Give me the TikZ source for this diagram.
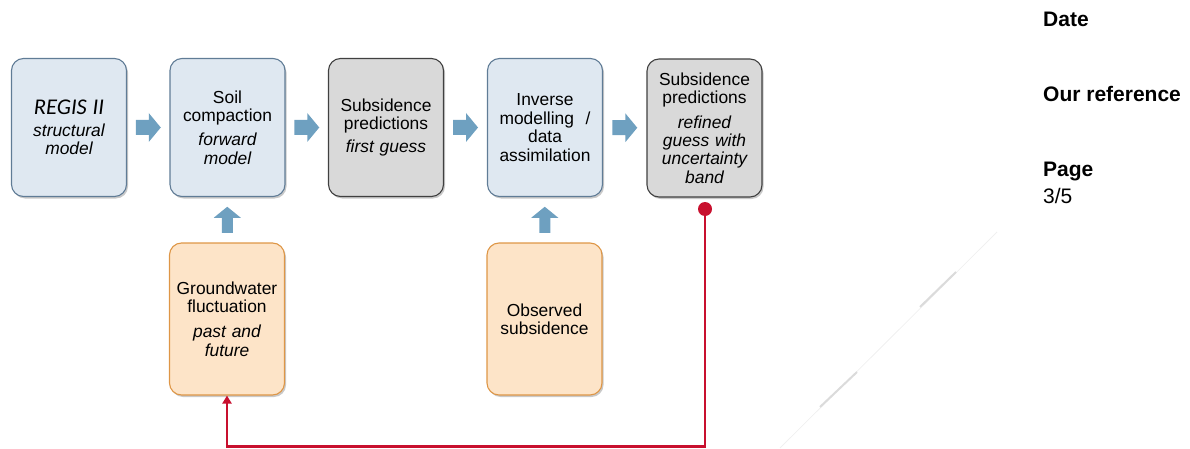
\documentclass[tikz,border=0pt]{standalone}
\usepackage{fontspec}
\setmainfont{Liberation Sans}
\newfontfamily\regisfont{Carlito}
\usetikzlibrary{shadows,arrows.meta,calc}
\definecolor{bluefill}{RGB}{223,232,241}
\definecolor{blueedge}{RGB}{96,124,150}
\definecolor{grayfill}{RGB}{217,217,217}
\definecolor{grayedge}{RGB}{64,64,64}
\definecolor{orangefill}{RGB}{253,228,200}
\definecolor{orangeedge}{RGB}{222,150,70}
\definecolor{arrowblue}{RGB}{110,160,192}
\definecolor{linered}{RGB}{200,16,46}
\tikzset{
  boxbase/.style={rectangle, rounded corners=12pt, line width=1.1pt, align=center,
    inner sep=0pt, minimum width=115pt, text width=108pt,
    font=\fontsize{17.4}{18.4}\selectfont,
    drop shadow={shadow xshift=1.5pt, shadow yshift=-2pt, opacity=0.3, fill=black!70}},
  bluebox/.style={boxbase, fill=bluefill, draw=blueedge, minimum height=138pt},
  graybox/.style={boxbase, fill=grayfill, draw=grayedge, minimum height=138pt},
  orangebox/.style={boxbase, fill=orangefill, draw=orangeedge, minimum height=152pt},
  rarrow/.pic={\fill[arrowblue] (-12.5,-7.5) -- (0.5,-7.5) -- (0.5,-14.5) -- (12.5,0) -- (0.5,14.5) -- (0.5,7.5) -- (-12.5,7.5) -- cycle;},
  uarrow/.pic={\fill[arrowblue] (-5.5,13) -- (-5.5,-2) -- (-13.5,-2) -- (0,-13) -- (13.5,-2) -- (5.5,-2) -- (5.5,13) -- cycle;},
  redline/.style={draw=linered, line width=2.8pt},
  sidetext/.style={anchor=base west, inner sep=0pt, font=\fontsize{21}{24}\selectfont},
}
\begin{document}
\begin{tikzpicture}[x=1pt,y=-1pt]
\useasboundingbox (0,0) rectangle (1190,449);
% faint diagonal
\draw[black!6, line width=0.8pt] (997,232) -- (780,448);
\draw[black!14, line width=2pt] (820,407) -- (857,372);
\draw[black!14, line width=2pt] (920,307) -- (956,272);
% boxes
\node[bluebox] (b1) at (69,127.5) {{\regisfont\itshape\fontsize{22.5}{22}\selectfont REGIS II}\\[3pt]\itshape structural\\\itshape model};
\node[bluebox] (b2) at (227.5,127.5) {Soil\\compaction\\[6pt]\itshape forward\\\itshape model};
\node[graybox] (b3) at (386,127.5) {Subsidence\\predictions\\[5pt]\itshape first guess};
\node[bluebox] (b4) at (545,127.5) {Inverse\\modelling\ \ /\\data\\assimilation};
\node[graybox] (b5) at (704.5,128) {Subsidence\\predictions\\[6pt]\itshape refined\\\itshape guess with\\\itshape uncertainty\\\itshape band};
\node[orangebox] (g1) at (227,319) {Groundwater\\fluctuation\\[7pt]\itshape past and\\\itshape future};
\node[orangebox] (o1) at (544.5,319) {Observed\\subsidence};
% block arrows
\pic at ($(b1.east)!0.5!(b2.west)$) {rarrow};
\pic at ($(b2.east)!0.5!(b3.west)$) {rarrow};
\pic at ($(b3.east)!0.5!(b4.west)$) {rarrow};
\pic at ($(b4.east)!0.5!(b5.west)$) {rarrow};
\pic at ($(b2.south)!0.5!(g1.north)$) {uarrow};
\pic at ($(b4.south)!0.5!(o1.north)$) {uarrow};
% red feedback
\node[circle, fill=linered, minimum size=14pt, inner sep=0pt] (dot) at (705,209) {};
\coordinate (bot) at (705,446.5);
\draw[redline, -{Triangle[width=9pt,length=8pt]}] (dot.center) -- (bot) -| (g1.south);
% side texts
\node[sidetext, font=\fontsize{21}{24}\selectfont\bfseries] (date) at (1043,27) {Date};
\node[sidetext, font=\fontsize{21}{24}\selectfont\bfseries] (ref) at (1043,102) {Our reference};
\node[sidetext, font=\fontsize{21}{24}\selectfont\bfseries] (page) at (1043,176) {Page};
\node[sidetext] (pnum) at (1043,203) {3/5};
\end{tikzpicture}
\end{document}
